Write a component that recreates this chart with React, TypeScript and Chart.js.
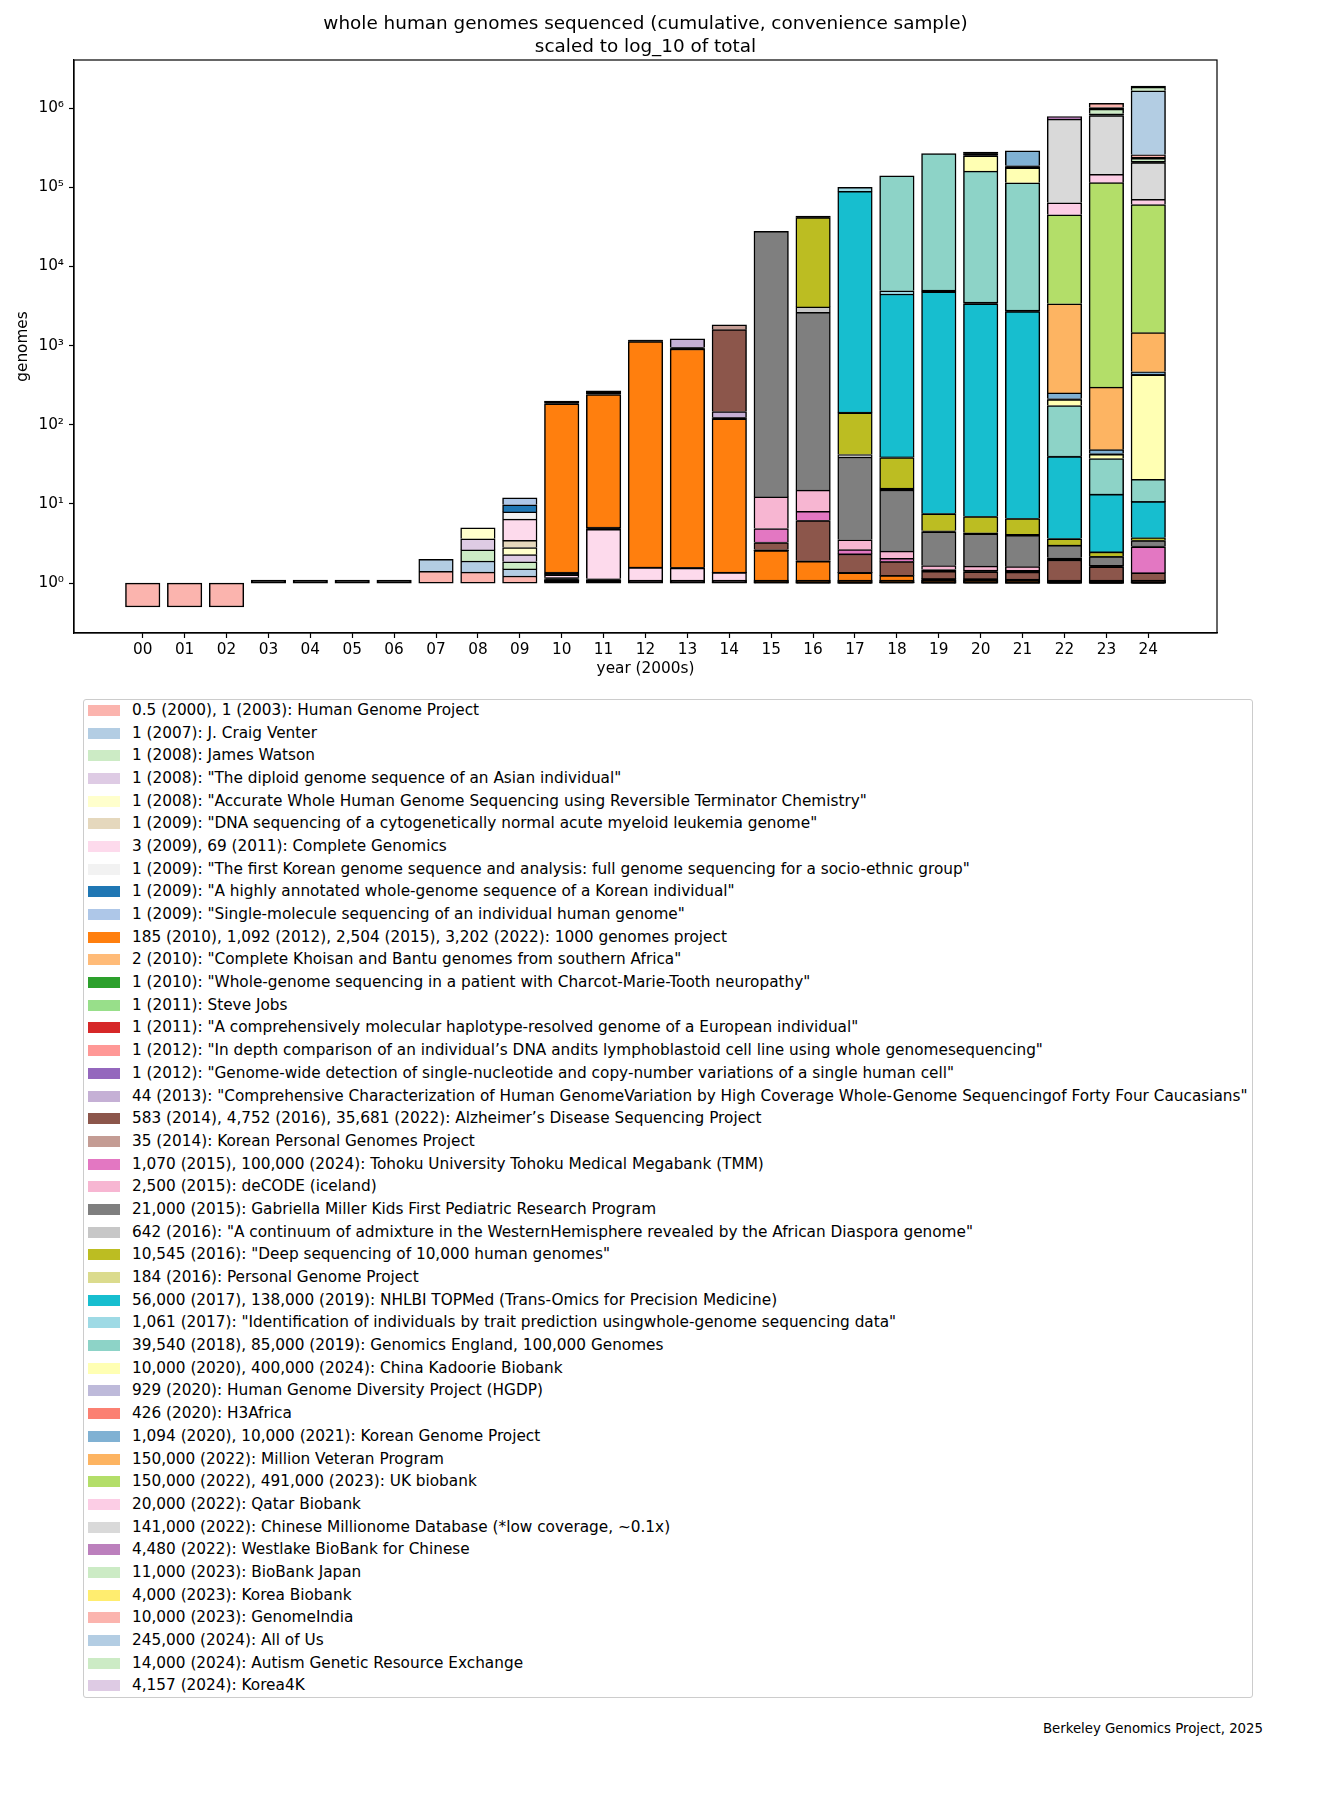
import React, { useEffect, useRef } from 'react';
import { Chart, registerables } from 'chart.js';

Chart.register(...registerables);

const FONT = "'DejaVu Sans', 'Liberation Sans', sans-serif";

const chartTitle = ['whole human genomes sequenced (cumulative, convenience sample)', 'scaled to log_10 of total'];
const xAxisTitle = 'year (2000s)';
const yAxisTitle = 'genomes';
const footerText = 'Berkeley Genomics Project, 2025';

const firstYear = 2000;
const yearLabels = ['00', '01', '02', '03', '04', '05', '06', '07', '08', '09', '10', '11', '12', '13', '14', '15', '16', '17', '18', '19', '20', '21', '22', '23', '24'];
const yearPositions = [0, 1, 2, 3, 4, 5, 6, 7, 8, 9, 10, 11, 12, 13, 14, 15, 16, 17, 18, 19, 20, 21, 22, 23, 24];

const yTickValues = [1, 10, 100, 1000, 10000, 100000, 1000000];
const yTickLabels = ['10⁰', '10¹', '10²', '10³', '10⁴', '10⁵', '10⁶'];

const projectNames = [
  'Human Genome Project',
  'J. Craig Venter',
  'James Watson',
  '"The diploid genome sequence of an Asian individual"',
  '"Accurate Whole Human Genome Sequencing using Reversible Terminator Chemistry"',
  '"DNA sequencing of a cytogenetically normal acute myeloid leukemia genome"',
  'Complete Genomics',
  '"The first Korean genome sequence and analysis: full genome sequencing for a socio-ethnic group"',
  '"A highly annotated whole-genome sequence of a Korean individual"',
  '"Single-molecule sequencing of an individual human genome"',
  '1000 genomes project',
  '"Complete Khoisan and Bantu genomes from southern Africa"',
  '"Whole-genome sequencing in a patient with Charcot-Marie-Tooth neuropathy"',
  'Steve Jobs',
  '"A comprehensively molecular haplotype-resolved genome of a European individual"',
  '"In depth comparison of an individual’s DNA andits lymphoblastoid cell line using whole genomesequencing"',
  '"Genome-wide detection of single-nucleotide and copy-number variations of a single human cell"',
  '"Comprehensive Characterization of Human GenomeVariation by High Coverage Whole-Genome Sequencingof Forty Four Caucasians"',
  'Alzheimer’s Disease Sequencing Project',
  'Korean Personal Genomes Project',
  'Tohoku University Tohoku Medical Megabank (TMM)',
  'deCODE (iceland)',
  'Gabriella Miller Kids First Pediatric Research Program',
  '"A continuum of admixture in the WesternHemisphere revealed by the African Diaspora genome"',
  '"Deep sequencing of 10,000 human genomes"',
  'Personal Genome Project',
  'NHLBI TOPMed (Trans-Omics for Precision Medicine)',
  '"Identification of individuals by trait prediction usingwhole-genome sequencing data"',
  'Genomics England, 100,000 Genomes',
  'China Kadoorie Biobank',
  'Human Genome Diversity Project (HGDP)',
  'H3Africa',
  'Korean Genome Project',
  'Million Veteran Program',
  'UK biobank',
  'Qatar Biobank',
  'Chinese Millionome Database (*low coverage, ~0.1x)',
  'Westlake BioBank for Chinese',
  'BioBank Japan',
  'Korea Biobank',
  'GenomeIndia',
  'All of Us',
  'Autism Genetic Resource Exchange',
  'Korea4K',
];

const milestoneYears: number[][] = [
  [2000, 2003], [2007], [2008], [2008], [2008], [2009], [2009, 2011], [2009], [2009], [2009],
  [2010, 2012, 2015, 2022], [2010], [2010], [2011], [2011], [2012], [2012], [2013],
  [2014, 2016, 2022], [2014], [2015, 2024], [2015], [2015], [2016], [2016], [2016],
  [2017, 2019], [2017], [2018, 2019], [2020, 2024], [2020], [2020], [2020, 2021],
  [2022], [2022, 2023], [2022], [2022], [2022], [2023], [2023], [2023], [2024], [2024], [2024],
];

const milestoneValues: number[][] = [
  [0.5, 1], [1], [1], [1], [1], [1], [3, 69], [1], [1], [1],
  [185, 1092, 2504, 3202], [2], [1], [1], [1], [1], [1], [44],
  [583, 4752, 35681], [35], [1070, 100000], [2500], [21000], [642], [10545], [184],
  [56000, 138000], [1061], [39540, 85000], [10000, 400000], [929], [426], [1094, 10000],
  [150000], [150000, 491000], [20000], [141000], [4480], [11000], [4000], [10000], [245000], [14000], [4157],
];

const projectColors = [
  '#fbb4ae', '#b3cde3', '#ccebc5', '#decbe4', '#ffffcc', '#e5d8bd', '#fddaec', '#f2f2f2',
  '#1f77b4', '#aec7e8', '#ff7f0e', '#ffbb78', '#2ca02c', '#98df8a', '#d62728', '#ff9896',
  '#9467bd', '#c5b0d5', '#8c564b', '#c49c94', '#e377c2', '#f7b6d2', '#7f7f7f', '#c7c7c7',
  '#bcbd22', '#dbdb8d', '#17becf', '#9edae5',
  '#8dd3c7', '#ffffb3', '#bebada', '#fb8072', '#80b1d3', '#fdb462', '#b3de69', '#fccde5',
  '#d9d9d9', '#bc80bd', '#ccebc5', '#ffed6f',
  '#fbb4ae', '#b3cde3', '#ccebc5', '#decbe4',
];

const Y_MIN = 0.2344;
const Y_MAX = 4.064e6;
const X_MIN = -1.64;
const X_MAX = 25.64;

function legendText(i: number): string {
  const parts = milestoneValues[i].map((v, j) => `${v.toLocaleString('en-US')} (${milestoneYears[i][j]})`);
  return `${parts.join(', ')}: ${projectNames[i]}`;
}

function buildSegments() {
  const perProject: { x: number; y: [number, number] }[][] = projectNames.map(() => []);
  yearPositions.forEach((k) => {
    const yr = firstYear + k;
    const vals = projectNames.map((_, i) => {
      let v = 0;
      milestoneYears[i].forEach((my, j) => {
        if (my <= yr) v = milestoneValues[i][j];
      });
      return v;
    });
    const total = vals.reduce((a, b) => a + b, 0);
    if (total <= 0) return;
    const L = Math.log10(total);
    let cum = 0;
    vals.forEach((v, i) => {
      if (v <= 0) return;
      const s = Math.pow(10, (cum / total) * L);
      cum += v;
      const e = Math.pow(10, (cum / total) * L);
      perProject[i].push({ x: k, y: [s, e] });
    });
  });
  return perProject;
}

const framePlugin = {
  id: 'axesFrame',
  afterDraw(chart: any) {
    const { ctx, chartArea: a } = chart;
    ctx.save();
    ctx.strokeStyle = '#000';
    ctx.lineWidth = 1.2;
    ctx.strokeRect(a.left, a.top, a.right - a.left, a.bottom - a.top);
    ctx.restore();
  },
};

export default function App() {
  const canvasRef = useRef<HTMLCanvasElement | null>(null);

  useEffect(() => {
    const canvas = canvasRef.current;
    if (!canvas) return;
    const segs = buildSegments();
    const datasets = projectNames.map((name, i) => ({
      label: name,
      data: segs[i],
      backgroundColor: (ctx: any) => {
        const raw = ctx.raw;
        const ys = ctx.chart.scales && ctx.chart.scales.y;
        if (!raw || !ys || !Array.isArray(raw.y)) return projectColors[i];
        const h = Math.abs(ys.getPixelForValue(raw.y[1]) - ys.getPixelForValue(raw.y[0]));
        return h < 2 ? '#000000' : projectColors[i];
      },
      borderColor: '#000000',
      borderWidth: 1.5,
      borderSkipped: i === 0 ? false : 'start',
      barThickness: 34.5,
      grouped: false,
      minBarLength: i === 0 ? 3 : 0,
    }));

    const tickFont = { family: FONT, size: 15.3 };
    const chart = new Chart(canvas, {
      type: 'bar',
      data: { datasets: datasets as any },
      plugins: [framePlugin],
      options: {
        animation: false,
        responsive: false,
        devicePixelRatio: 1,
        layout: { padding: { left: 0, right: 113, top: 0, bottom: 0 } },
        plugins: {
          legend: { display: false },
          tooltip: { enabled: false },
          title: {
            display: true,
            text: chartTitle,
            fullSize: false,
            color: '#000',
            font: { family: FONT, size: 18.4, weight: 'normal', lineHeight: 23 / 18.4 },
            padding: { top: 12.5, bottom: 1.5 },
          },
        },
        scales: {
          x: {
            type: 'linear',
            min: X_MIN,
            max: X_MAX,
            offset: false,
            grid: { display: true, offset: false, drawOnChartArea: false, drawTicks: true, tickLength: 5, tickColor: '#000', tickWidth: 1.2 },
            border: { display: true, color: '#000', width: 1.2 },
            afterBuildTicks: (scale: any) => {
              scale.ticks = yearPositions.map((v) => ({ value: v }));
            },
            afterFit: (scale: any) => {
              scale.height = 45;
            },
            ticks: {
              autoSkip: false,
              maxRotation: 0,
              color: '#000',
              font: tickFont,
              padding: 3,
              callback: (v: any) => yearLabels[yearPositions.indexOf(Number(v))] ?? '',
            },
            title: {
              display: true,
              text: xAxisTitle,
              color: '#000',
              font: { family: FONT, size: 15.3, lineHeight: 1.2 },
              padding: { top: 0, bottom: 0 },
            },
          },
          y: {
            type: 'logarithmic',
            min: Y_MIN,
            max: Y_MAX,
            grid: { display: true, drawOnChartArea: false, drawTicks: true, tickLength: 5, tickColor: '#000', tickWidth: 1.2 },
            border: { display: true, color: '#000', width: 1.2 },
            afterBuildTicks: (scale: any) => {
              scale.ticks = yTickValues.map((v) => ({ value: v }));
            },
            afterFit: (scale: any) => {
              scale.width = 74;
            },
            ticks: {
              autoSkip: false,
              color: '#000',
              font: tickFont,
              padding: 5,
              callback: (v: any) => yTickLabels[yTickValues.indexOf(Number(v))] ?? '',
            },
            title: {
              display: true,
              text: yAxisTitle,
              color: '#000',
              font: { family: FONT, size: 15.3, lineHeight: 1.2 },
              padding: { top: 14, bottom: 0 },
            },
          },
        },
      } as any,
    });
    return () => {
      chart.destroy();
    };
  }, []);

  return (
    <div
      style={{
        position: 'absolute',
        left: 0,
        top: 0,
        width: 1330,
        height: 1800,
        background: '#ffffff',
        fontFamily: FONT,
        color: '#000',
        overflow: 'hidden',
      }}
    >
      <canvas
        ref={canvasRef}
        width={1330}
        height={678}
        style={{ position: 'absolute', left: 0, top: 0, width: 1330, height: 678 }}
      />
      <div
        style={{
          position: 'absolute',
          left: 83,
          top: 699,
          width: 1170,
          height: 999,
          boxSizing: 'border-box',
          border: '1px solid #cccccc',
          borderRadius: 3,
          background: '#ffffff',
        }}
      >
        {projectNames.map((_, i) => (
          <div
            key={i}
            style={{ height: 22.7, display: 'flex', alignItems: 'center', marginTop: i === 0 ? -1 : 0 }}
          >
            <span
              style={{
                display: 'inline-block',
                flex: 'none',
                width: 32,
                height: 11,
                marginLeft: 4,
                background: projectColors[i],
              }}
            />
            <span style={{ marginLeft: 12, fontSize: 15.3, lineHeight: '17px', whiteSpace: 'nowrap' }}>
              {legendText(i)}
            </span>
          </div>
        ))}
      </div>
      <div
        style={{
          position: 'absolute',
          left: 0,
          top: 1720,
          width: 1263,
          textAlign: 'right',
          fontSize: 13.3,
          lineHeight: '17px',
          whiteSpace: 'nowrap',
        }}
      >
        {footerText}
      </div>
    </div>
  );
}
